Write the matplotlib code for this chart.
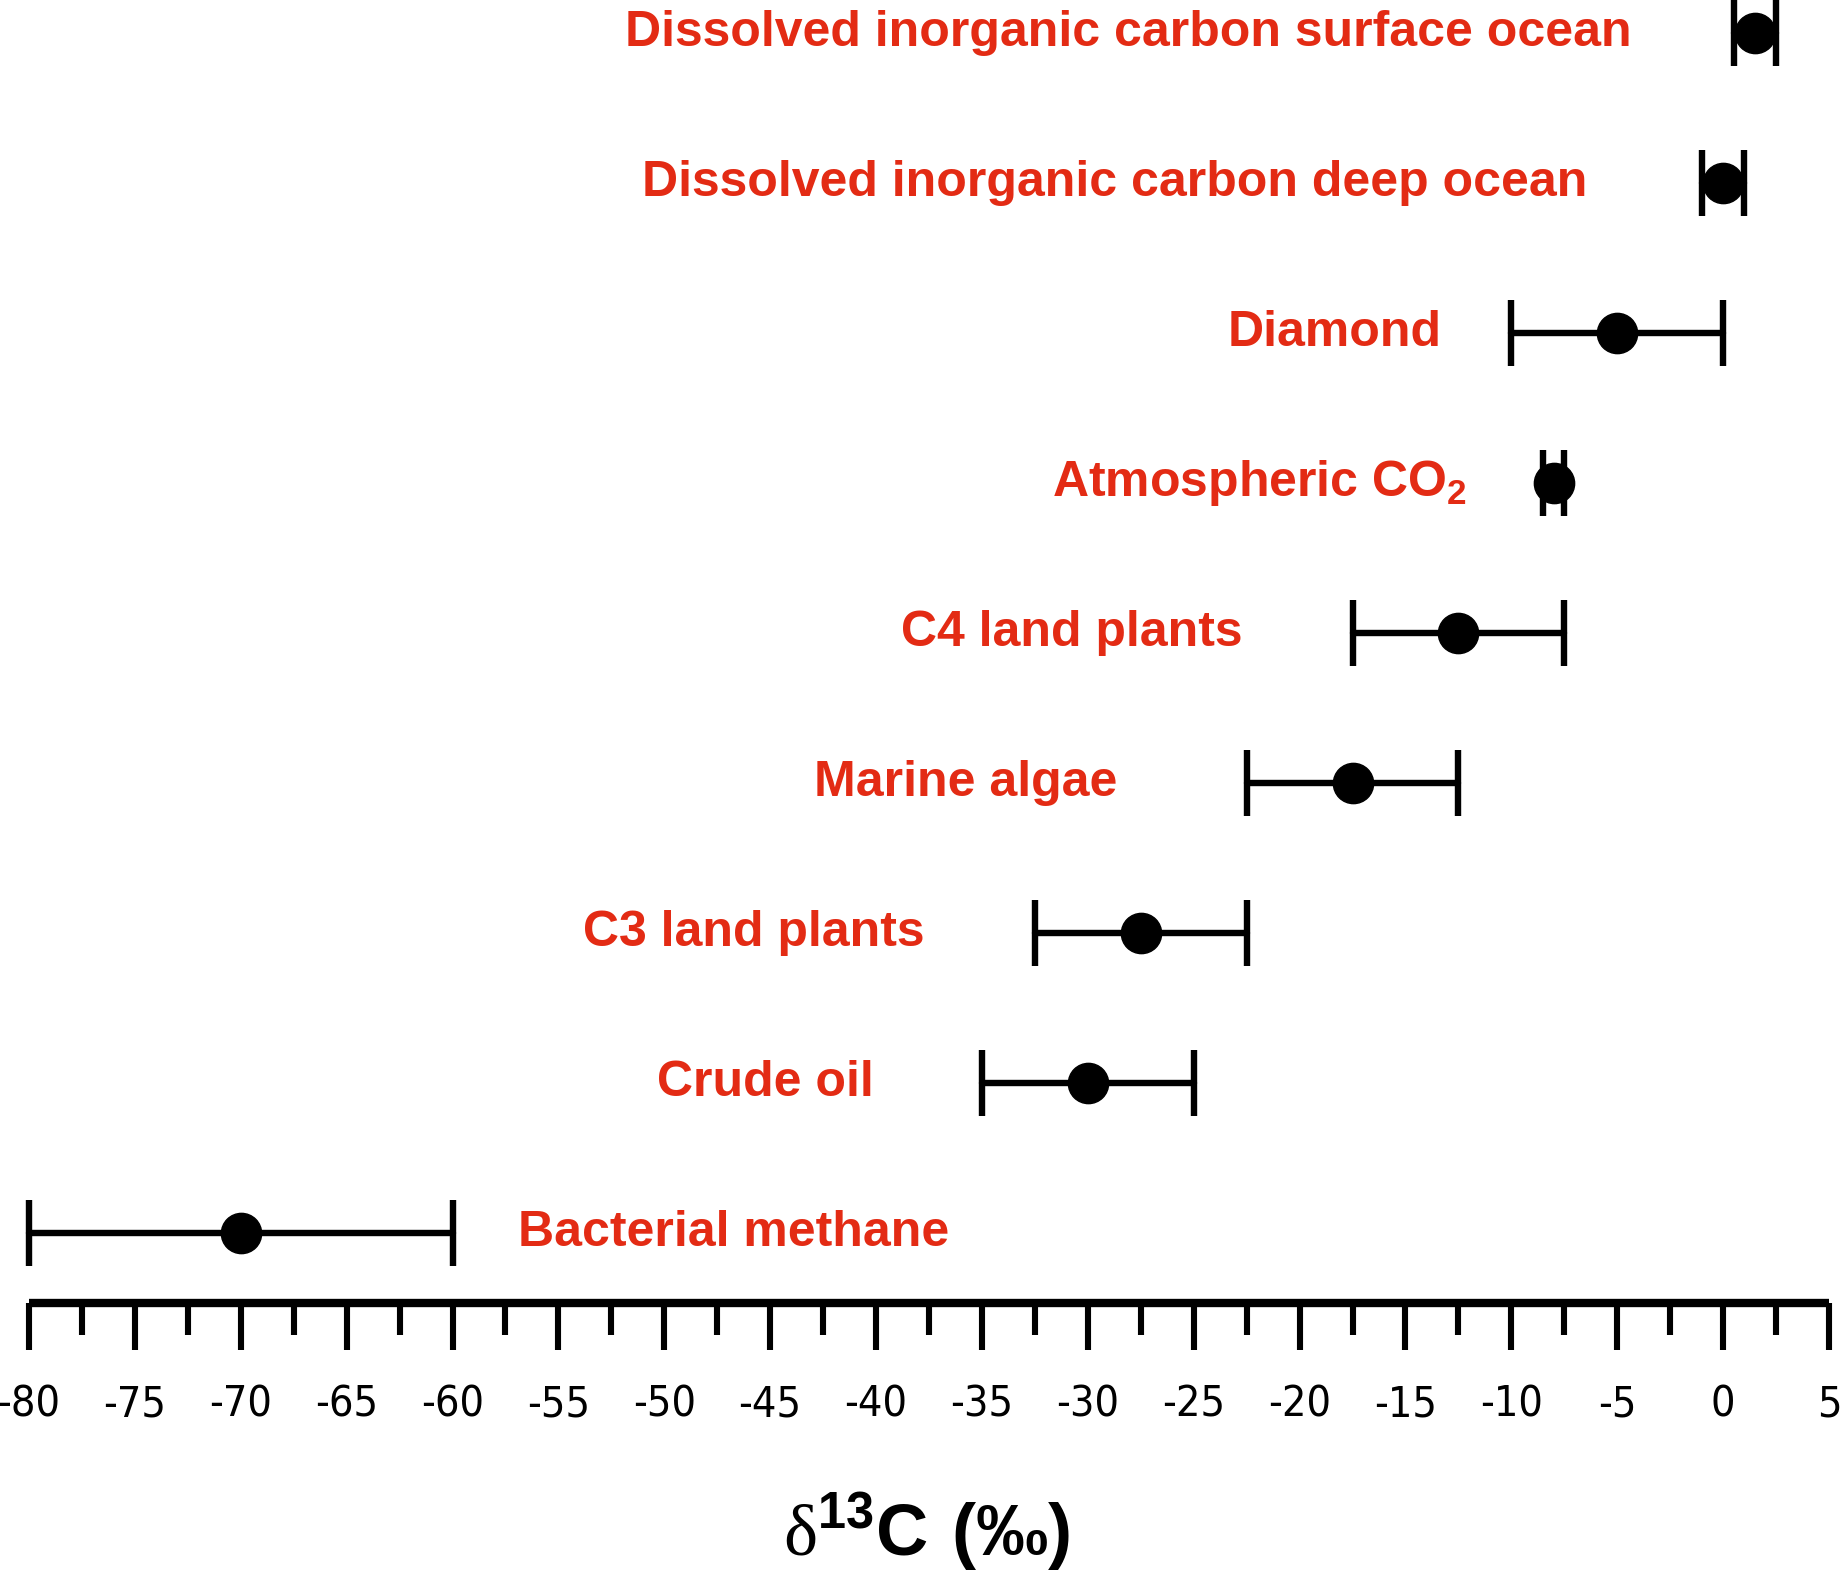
import matplotlib
matplotlib.use("Agg")
import matplotlib.pyplot as plt
from matplotlib import font_manager
from matplotlib.ticker import MultipleLocator

# ---- data ----
categories = [
    "Bacterial methane",
    "Crude oil",
    "C3 land plants",
    "Marine algae",
    "C4 land plants",
    "Atmospheric CO$_{\\mathbf{2}}$",
    "Diamond",
    "Dissolved inorganic carbon deep ocean",
    "Dissolved inorganic carbon surface ocean",
]
center = [-70, -30, -27.5, -17.5, -12.5, -8, -5, 0, 1.5]
low = [-80, -35, -32.5, -22.5, -17.5, -8.5, -10, -1, 0.5]
high = [-60, -25, -22.5, -12.5, -7.5, -7.5, 0, 1, 2.5]
x_ticks = list(range(-80, 6, 5))

# ---- layout (label anchor positions in data units) ----
label_x = [-56.9, -40.1, -37.7, -28.6, -22.7, -12.1, -13.3, -6.4, -4.3]
label_ha = ["left"] + ["right"] * 8

RED = "#E32B14"

plt.rcParams["mathtext.fontset"] = "custom"
plt.rcParams["mathtext.rm"] = "Liberation Serif"
plt.rcParams["mathtext.bf"] = "Liberation Sans:bold"

names = {f.name for f in font_manager.fontManager.ttflist}
if "Liberation Sans Narrow" in names:
    tick_font = dict(family="Liberation Sans Narrow")
else:
    tick_font = dict(family="DejaVu Sans", stretch="condensed")

fig = plt.figure(figsize=(18.41, 15.84), dpi=100)
ax = fig.add_axes([29 / 1841, 281 / 1584, 1800 / 1841, 1300 / 1584])

ypos = list(range(len(categories)))
xerr = [[c - l for c, l in zip(center, low)], [h - c for c, h in zip(center, high)]]
eb = ax.errorbar(center, ypos, xerr=xerr, fmt="o", color="black", ms=29,
                 elinewidth=4.6, capsize=24, capthick=4.6, clip_on=False)
for art in eb.lines[1]:
    art.set_clip_on(False)
for art in eb.lines[2]:
    art.set_clip_on(False)
    art.set_capstyle("round")

for i, (lab, lx, ha) in enumerate(zip(categories, label_x, label_ha)):
    ax.text(lx, i, lab, ha=ha, va="center", color=RED, fontsize=36,
            fontfamily="Liberation Sans", fontweight="bold")

ax.set_xlim(-80, 5)
ax.set_ylim(-0.47, 8.2)
for s in ["top", "left", "right"]:
    ax.spines[s].set_visible(False)
ax.spines["bottom"].set_linewidth(6)
ax.spines["bottom"].set_capstyle("butt")
ax.set_yticks([])
ax.set_xticks(x_ticks)
ax.set_xticklabels([str(t) for t in x_ticks], fontsize=31, **tick_font)
ax.xaxis.set_minor_locator(MultipleLocator(2.5))
ax.tick_params(axis="x", which="major", length=34, width=4.4, pad=24, direction="out")
ax.tick_params(axis="x", which="minor", length=23, width=4.4, direction="out")

ax.set_xlabel(r"$\mathrm{\delta}^{\mathbf{13}}\mathbf{C\ (‰)}$", fontsize=52)
ax.xaxis.set_label_coords(0.4989, -0.176)
ax.xaxis.label.set_va("center")

fig.savefig("out.png", dpi=100)
